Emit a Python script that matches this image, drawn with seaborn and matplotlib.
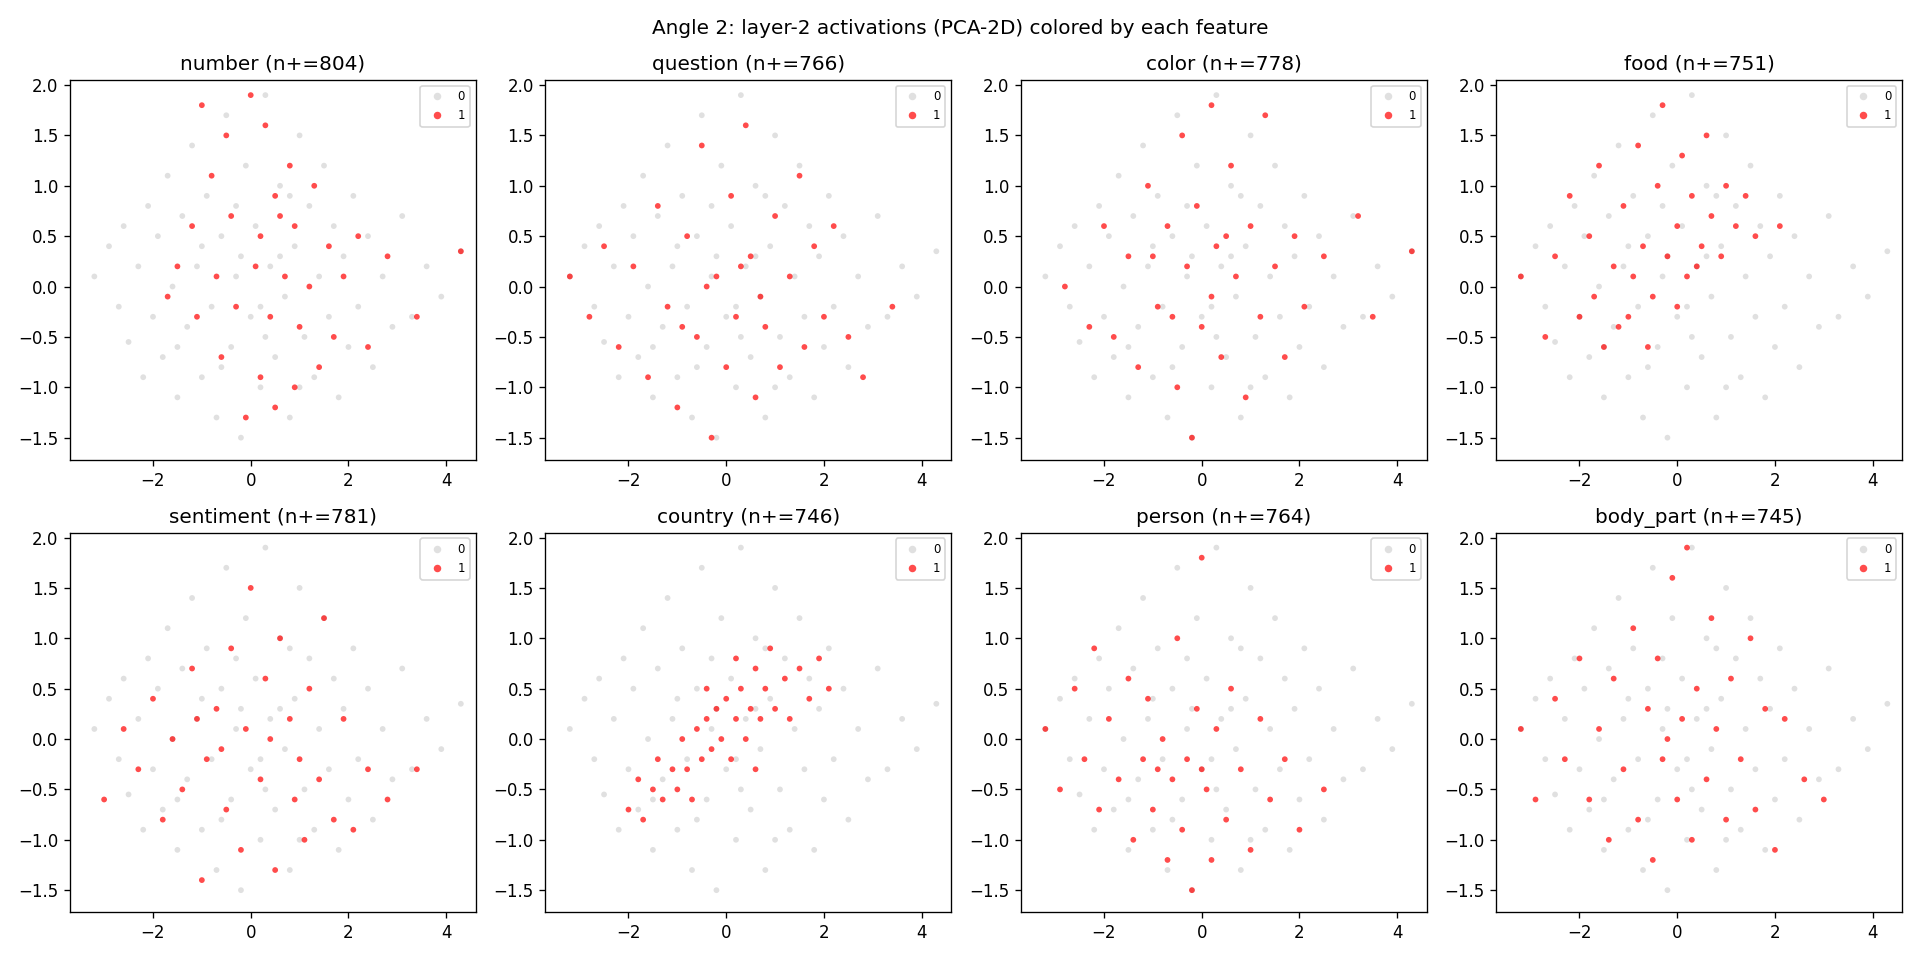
import pandas as pd
import matplotlib
matplotlib.use("Agg")
import matplotlib.pyplot as plt
import seaborn as sns

# PCA-2D coordinates of the activations (hand-read approximation of the cloud)
base_pts = [
    (-3.2, 0.1), (-2.9, 0.4), (-2.7, -0.2), (-2.6, 0.6), (-2.5, -0.55), (-2.3, 0.2), (-2.2, -0.9), (-2.1, 0.8),
    (-2.0, -0.3), (-1.9, 0.5), (-1.8, -0.7), (-1.7, 1.1), (-1.6, 0.0), (-1.5, -1.1), (-1.4, 0.7), (-1.3, -0.4),
    (-1.2, 1.4), (-1.1, 0.2), (-1.0, -0.9), (-0.9, 0.9), (-0.8, -0.2), (-0.7, -1.3), (-0.6, 0.5), (-0.5, 1.7),
    (-0.4, -0.6), (-0.3, 0.1), (-0.2, -1.5), (-0.1, 1.2), (0.0, -0.3), (0.1, 0.6), (0.2, -1.0), (0.3, 1.9),
    (0.4, 0.2), (0.5, -0.7), (0.6, 1.0), (0.7, -0.1), (0.8, -1.3), (0.9, 0.4), (1.0, 1.5), (1.1, -0.5),
    (1.2, 0.8), (1.3, -0.9), (1.4, 0.1), (1.5, 1.2), (1.6, -0.3), (1.7, 0.6), (1.8, -1.1), (1.9, 0.3),
    (2.0, -0.6), (2.1, 0.9), (2.2, -0.2), (2.4, 0.5), (2.5, -0.8), (2.7, 0.1), (2.9, -0.4), (3.1, 0.7),
    (3.3, -0.3), (3.6, 0.2), (3.9, -0.1), (4.3, 0.35), (-0.6, -0.8), (0.3, -0.5), (-0.3, 0.8), (0.8, 0.9),
    (-1.0, 0.4), (1.0, -1.0), (-1.5, -0.6), (0.6, 0.3), (-0.2, 0.3), (0.2, -0.2),
]

features = ["number", "question", "color", "food", "sentiment", "country", "person", "body_part"]
n_pos = [804, 766, 778, 751, 781, 746, 764, 745]

# positive points (label 1) per feature
pos_number = [(-1.0, 1.8), (-0.5, 1.5), (0.0, 1.9), (0.3, 1.6), (0.8, 1.2), (-0.8, 1.1), (0.5, 0.9), (1.3, 1.0),
              (-1.2, 0.6), (-0.4, 0.7), (0.2, 0.5), (0.9, 0.6), (1.6, 0.4), (2.2, 0.5), (-1.5, 0.2), (-0.7, 0.1),
              (0.1, 0.2), (0.7, 0.1), (1.2, 0.0), (1.9, 0.1), (2.8, 0.3), (-1.1, -0.3), (-0.3, -0.2), (0.4, -0.3),
              (1.0, -0.4), (1.7, -0.5), (2.4, -0.6), (3.4, -0.3), (4.3, 0.35), (-0.6, -0.7), (0.2, -0.9),
              (0.9, -1.0), (-0.1, -1.3), (0.5, -1.2), (1.4, -0.8), (-1.7, -0.1), (0.6, 0.7)]
pos_question = [(-3.2, 0.1), (-2.8, -0.3), (-2.5, 0.4), (-2.2, -0.6), (-1.9, 0.2), (-1.6, -0.9), (-1.4, 0.8),
                (-1.2, -0.2), (-1.0, -1.2), (-0.8, 0.5), (-0.6, -0.5), (-0.5, 1.4), (-0.3, -1.5), (-0.2, 0.1),
                (0.0, -0.8), (0.1, 0.9), (0.2, -0.3), (0.4, 1.6), (0.5, 0.3), (0.6, -1.1), (0.8, -0.4), (1.0, 0.7),
                (1.1, -0.8), (1.3, 0.1), (1.5, 1.1), (1.6, -0.6), (1.8, 0.4), (2.0, -0.3), (2.2, 0.6), (2.5, -0.5),
                (2.8, -0.9), (3.4, -0.2), (-0.9, -0.4), (0.3, 0.2), (-0.4, 0.0), (0.7, -0.1)]
pos_color = [(-2.8, 0.0), (-2.3, -0.4), (-2.0, 0.6), (-1.8, -0.5), (-1.5, 0.3), (-1.3, -0.8), (-1.1, 1.0),
             (-0.9, -0.2), (-0.7, 0.6), (-0.5, -1.0), (-0.4, 1.5), (-0.3, 0.2), (-0.2, -1.5), (-0.1, 0.8),
             (0.0, -0.4), (0.2, 1.8), (0.3, 0.4), (0.4, -0.7), (0.6, 1.2), (0.7, 0.1), (0.9, -1.1), (1.0, 0.6),
             (1.2, -0.3), (1.3, 1.7), (1.5, 0.2), (1.7, -0.7), (1.9, 0.5), (2.1, -0.2), (2.5, 0.3), (3.2, 0.7),
             (3.5, -0.3), (4.3, 0.35), (-1.0, 0.3), (0.2, -0.1), (-0.6, -0.3), (0.5, 0.5)]
pos_food = [(-3.2, 0.1), (-2.7, -0.5), (-2.5, 0.3), (-2.2, 0.9), (-2.0, -0.3), (-1.8, 0.5), (-1.6, 1.2),
            (-1.5, -0.6), (-1.3, 0.2), (-1.1, 0.8), (-1.0, -0.3), (-0.8, 1.4), (-0.7, 0.4), (-0.5, -0.1),
            (-0.4, 1.0), (-0.3, 1.8), (-0.2, 0.3), (0.0, 0.6), (0.1, 1.3), (0.2, 0.1), (0.3, 0.9), (0.5, 0.4),
            (0.6, 1.5), (0.7, 0.7), (0.9, 0.3), (1.0, 1.0), (1.2, 0.6), (1.4, 0.9), (1.6, 0.5), (2.1, 0.6),
            (-1.2, -0.4), (-0.6, -0.6), (0.0, -0.2), (-1.7, -0.1), (0.4, 0.2), (-0.9, 0.1)]
pos_sentiment = [(-3.0, -0.6), (-2.6, 0.1), (-2.3, -0.3), (-2.0, 0.4), (-1.8, -0.8), (-1.6, 0.0), (-1.4, -0.5),
                 (-1.2, 0.7), (-1.0, -1.4), (-0.9, -0.2), (-0.7, 0.3), (-0.5, -0.7), (-0.4, 0.9), (-0.2, -1.1),
                 (-0.1, 0.1), (0.0, 1.5), (0.2, -0.4), (0.3, 0.6), (0.5, -1.3), (0.6, 1.0), (0.8, 0.2),
                 (0.9, -0.6), (1.1, -1.0), (1.2, 0.5), (1.4, -0.4), (1.5, 1.2), (1.7, -0.8), (1.9, 0.2),
                 (2.1, -0.9), (2.4, -0.3), (2.8, -0.6), (3.4, -0.3), (-0.6, -0.1), (0.4, 0.0), (1.0, -0.2),
                 (-1.1, 0.2)]
pos_country = [(-2.0, -0.7), (-1.8, -0.4), (-1.7, -0.8), (-1.5, -0.5), (-1.4, -0.2), (-1.3, -0.6), (-1.1, -0.3),
               (-1.0, -0.5), (-0.9, 0.0), (-0.8, -0.3), (-0.7, -0.6), (-0.6, 0.1), (-0.5, -0.2), (-0.4, 0.2),
               (-0.3, -0.1), (-0.2, 0.3), (-0.1, 0.0), (0.0, 0.4), (0.1, -0.2), (0.2, 0.2), (0.3, 0.5),
               (0.4, 0.0), (0.5, 0.3), (0.6, 0.7), (0.7, 0.2), (0.8, 0.5), (0.9, 0.9), (1.0, 0.3), (1.2, 0.6),
               (1.3, 0.2), (1.5, 0.7), (1.7, 0.4), (1.9, 0.8), (2.1, 0.5), (0.2, 0.8), (-0.4, 0.5), (0.6, -0.3)]
pos_person = [(-3.2, 0.1), (-2.9, -0.5), (-2.6, 0.5), (-2.4, -0.2), (-2.2, 0.9), (-2.1, -0.7), (-1.9, 0.2),
              (-1.7, -0.4), (-1.5, 0.6), (-1.4, -1.0), (-1.2, -0.2), (-1.1, 0.4), (-1.0, -0.7), (-0.8, 0.0),
              (-0.7, -1.2), (-0.6, -0.4), (-0.5, 1.0), (-0.4, -0.9), (-0.3, -0.2), (-0.2, -1.5), (-0.1, 0.3),
              (0.0, 1.8), (0.1, -0.5), (0.2, -1.2), (0.3, 0.1), (0.5, -0.8), (0.6, 0.5), (0.8, -0.3),
              (1.0, -1.1), (1.2, 0.2), (1.4, -0.6), (1.7, -0.2), (2.0, -0.9), (2.5, -0.5), (-0.9, -0.3),
              (0.0, -0.3)]
pos_body_part = [(-3.2, 0.1), (-2.9, -0.6), (-2.5, 0.4), (-2.3, -0.2), (-2.0, 0.8), (-1.8, -0.6), (-1.6, 0.1),
                 (-1.4, -1.0), (-1.3, 0.6), (-1.1, -0.3), (-0.9, 1.1), (-0.8, -0.8), (-0.6, 0.3), (-0.5, -1.2),
                 (-0.4, 0.8), (-0.3, -0.2), (-0.1, 1.6), (0.0, -0.6), (0.1, 0.2), (0.2, 1.9), (0.3, -1.0),
                 (0.4, 0.5), (0.6, -0.4), (0.7, 1.2), (0.8, 0.1), (1.0, -0.8), (1.1, 0.6), (1.3, -0.2),
                 (1.5, 1.0), (1.6, -0.7), (1.8, 0.3), (2.0, -1.1), (2.2, 0.2), (2.6, -0.4), (3.0, -0.6),
                 (-0.2, 0.0)]

pos_sets = [pos_number, pos_question, pos_color, pos_food, pos_sentiment, pos_country, pos_person, pos_body_part]

plt.rcParams['font.family'] = ['DejaVu Sans']
fig, axes = plt.subplots(2, 4, figsize=(16, 8), dpi=120)

for ax, feat, n, pos in zip(axes.flat, features, n_pos, pos_sets):
    neg = pd.DataFrame(base_pts, columns=['x', 'y'])
    neg['label'] = '0'
    p = pd.DataFrame(pos, columns=['x', 'y'])
    p['label'] = '1'
    df = pd.concat([neg, p], ignore_index=True)
    sns.scatterplot(data=df, x='x', y='y', hue='label', palette={'0': '#d3d3d3', '1': 'red'},
                    s=12, alpha=0.7, edgecolor='none', ax=ax)
    ax.set_title(f"{feat} (n+={n})")
    ax.set_xlabel('')
    ax.set_ylabel('')
    ax.set_xlim(-3.7, 4.6)
    ax.set_ylim(-1.72, 2.05)
    ax.set_xticks([-2, 0, 2, 4])
    ax.set_yticks([-1.5, -1.0, -0.5, 0.0, 0.5, 1.0, 1.5, 2.0])
    ax.legend(title=None, loc='upper right', fontsize=7, markerscale=1.3)

fig.suptitle("Angle 2: layer-2 activations (PCA-2D) colored by each feature")
fig.tight_layout()
fig.savefig("out.png")
